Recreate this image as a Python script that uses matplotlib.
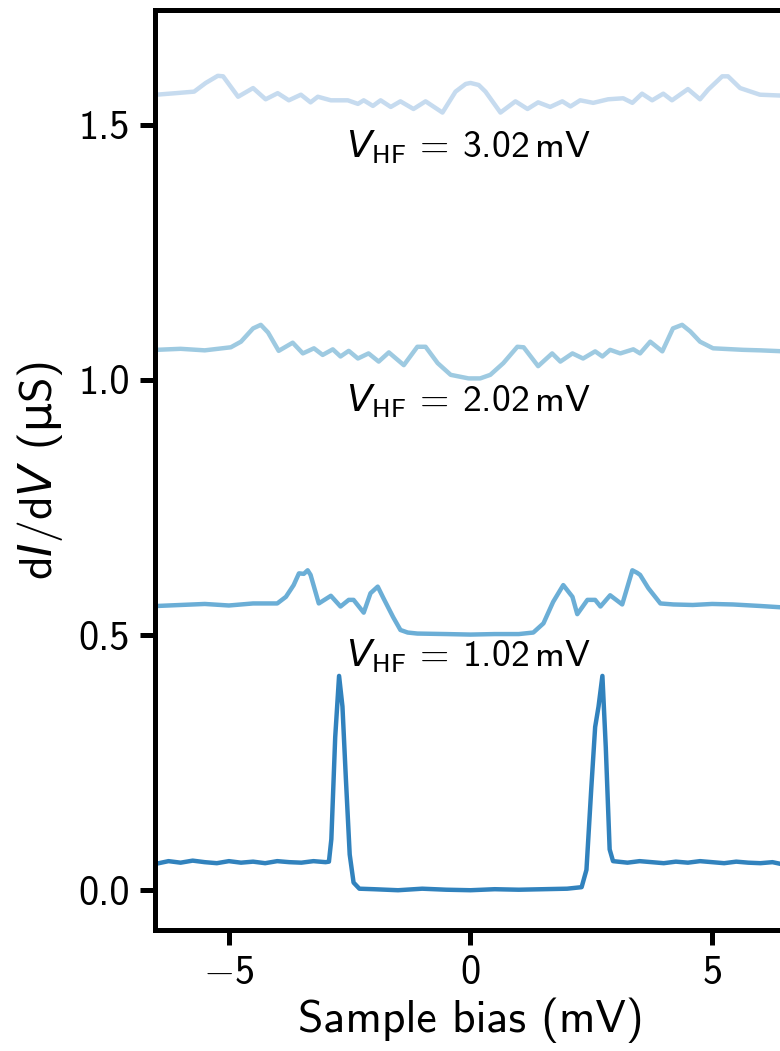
import matplotlib
matplotlib.use("Agg")
import matplotlib.pyplot as plt

plt.rcParams['font.family'] = ['cmss10', 'DejaVu Sans']
plt.rcParams['mathtext.fontset'] = 'custom'
plt.rcParams['mathtext.rm'] = 'cmss10'
plt.rcParams['mathtext.sf'] = 'DejaVu Sans'
plt.rcParams['mathtext.it'] = 'DejaVu Sans:italic'
plt.rcParams['axes.formatter.use_mathtext'] = True

# ---------------- data ----------------
# V_HF = 0 (bottom curve)
x0 = [-6.5, -6.25, -6.0, -5.75, -5.5, -5.25, -5.0, -4.75, -4.5, -4.25, -4.0, -3.75, -3.5,
      -3.25, -3.0, -2.93, -2.88, -2.8, -2.72, -2.65, -2.58, -2.5, -2.42, -2.3, -2.0, -1.5,
      -1.0, -0.5, 0.0, 0.5, 1.0, 1.5, 2.0, 2.3, 2.4, 2.5, 2.58, 2.65, 2.73, 2.8, 2.88, 2.95,
      3.25, 3.5, 3.75, 4.0, 4.25, 4.5, 4.75, 5.0, 5.25, 5.5, 5.75, 6.0, 6.25, 6.5]
y0 = [0.052, 0.057, 0.054, 0.058, 0.055, 0.053, 0.057, 0.054, 0.056, 0.053, 0.057, 0.055, 0.054,
      0.057, 0.055, 0.056, 0.10, 0.30, 0.42, 0.36, 0.22, 0.07, 0.015, 0.003, 0.002, 0.0,
      0.003, 0.001, 0.0, 0.002, 0.001, 0.002, 0.003, 0.006, 0.04, 0.20, 0.32, 0.36, 0.42, 0.28, 0.08, 0.057,
      0.054, 0.057, 0.055, 0.053, 0.056, 0.054, 0.057, 0.055, 0.053, 0.056, 0.054, 0.053, 0.055, 0.050]

# V_HF = 1.02 mV
x1 = [-6.5, -6.0, -5.5, -5.0, -4.5, -4.0, -3.82, -3.66, -3.55, -3.45, -3.37, -3.31, -3.14,
      -2.89, -2.69, -2.52, -2.42, -2.21, -2.07, -1.92, -1.80, -1.6, -1.45, -1.3, -1.1, -0.5,
      0.0, 0.5, 1.0, 1.3, 1.51, 1.71, 1.92, 2.11, 2.21, 2.42, 2.58, 2.69, 2.89, 3.14, 3.35,
      3.45, 3.51, 3.68, 3.93, 4.2, 4.6, 5.0, 5.43, 6.0, 6.5]
y1 = [0.557, 0.559, 0.561, 0.558, 0.562, 0.562, 0.575, 0.598, 0.621, 0.620, 0.627, 0.618, 0.562,
      0.577, 0.556, 0.569, 0.569, 0.544, 0.582, 0.595, 0.572, 0.535, 0.510, 0.505, 0.503, 0.502,
      0.501, 0.502, 0.502, 0.505, 0.523, 0.565, 0.598, 0.575, 0.541, 0.569, 0.569, 0.556, 0.578, 0.560, 0.627,
      0.622, 0.618, 0.592, 0.562, 0.560, 0.559, 0.561, 0.560, 0.557, 0.554]

# V_HF = 2.02 mV
x2 = [-6.5, -6.0, -5.5, -4.96, -4.75, -4.50, -4.34, -4.19, -3.97, -3.68, -3.47, -3.24, -3.06,
      -2.85, -2.69, -2.52, -2.33, -2.11, -1.90, -1.69, -1.38, -1.10, -0.93, -0.68, -0.41, -0.04,
      0.2, 0.41, 0.68, 0.97, 1.10, 1.40, 1.69, 1.86, 2.11, 2.33, 2.58, 2.73, 2.89, 3.10, 3.37,
      3.51, 3.72, 3.97, 4.19, 4.38, 4.55, 4.75, 5.02, 5.64, 6.0, 6.5]
y2 = [1.059, 1.061, 1.058, 1.064, 1.075, 1.101, 1.108, 1.093, 1.057, 1.073, 1.052, 1.062, 1.049,
      1.060, 1.046, 1.057, 1.042, 1.052, 1.036, 1.054, 1.029, 1.065, 1.065, 1.033, 1.010, 1.003,
      1.003, 1.010, 1.033, 1.065, 1.064, 1.027, 1.052, 1.036, 1.052, 1.042, 1.056, 1.046, 1.059, 1.052, 1.060,
      1.052, 1.075, 1.056, 1.101, 1.108, 1.095, 1.075, 1.062, 1.059, 1.058, 1.056]

# V_HF = 3.02 mV
x3 = [-6.5, -6.1, -5.72, -5.48, -5.23, -5.12, -4.81, -4.50, -4.24, -3.99, -3.76, -3.51, -3.31,
      -3.16, -2.89, -2.54, -2.33, -2.21, -2.02, -1.86, -1.65, -1.45, -1.18, -0.93, -0.58, -0.31,
      -0.10, 0.0, 0.17, 0.31, 0.62, 0.93, 1.18, 1.40, 1.65, 1.90, 2.07, 2.27, 2.54, 2.85, 3.16,
      3.35, 3.55, 3.76, 3.99, 4.17, 4.50, 4.75, 4.92, 5.21, 5.33, 5.58, 5.99, 6.5]
y3 = [1.559, 1.562, 1.565, 1.582, 1.596, 1.595, 1.555, 1.572, 1.550, 1.562, 1.548, 1.559, 1.544,
      1.555, 1.548, 1.548, 1.541, 1.548, 1.537, 1.548, 1.535, 1.546, 1.531, 1.546, 1.524, 1.565,
      1.580, 1.582, 1.578, 1.565, 1.524, 1.546, 1.531, 1.544, 1.535, 1.546, 1.536, 1.548, 1.543, 1.550, 1.552,
      1.543, 1.561, 1.548, 1.561, 1.548, 1.570, 1.550, 1.569, 1.595, 1.595, 1.572, 1.559, 1.557]

labels = [r"$V_\mathrm{HF}\,=\,1.02\,\mathrm{mV}$",
          r"$V_\mathrm{HF}\,=\,2.02\,\mathrm{mV}$",
          r"$V_\mathrm{HF}\,=\,3.02\,\mathrm{mV}$"]
label_y = [0.458, 0.958, 1.456]
colors = ['#3182bd', '#6baed6', '#9ecae1', '#c6dbef']

xticks = [-5, 0, 5]
yticks = [0.0, 0.5, 1.0, 1.5]

# ---------------- figure ----------------
fig = plt.figure(figsize=(7.8, 10.51), dpi=100)
ax = fig.add_axes([0.1987, 0.1151, 0.809, 0.8754])

for xs, ys, c in zip([x0, x1, x2, x3], [y0, y1, y2, y3], colors):
    ax.plot(xs, ys, color=c, lw=3.2, solid_joinstyle='round')

for lab, ly in zip(labels, label_y):
    ax.text(-0.05, ly, lab, ha='center', va='center', fontsize=27)

ax.set_xlim(-6.53, 6.53)
ax.set_ylim(-0.078, 1.725)
ax.set_xticks(xticks)
ax.set_yticks(yticks)
ax.set_yticklabels([f"{v:.1f}" for v in yticks])
ax.set_xticklabels([f"${v}$" if v >= 0 else f"$-{abs(v)}$" for v in xticks])
ax.tick_params(axis='both', which='major', length=11, width=3.6, labelsize=29, pad=7)
for sp in ax.spines.values():
    sp.set_linewidth(3.6)

ax.set_xlabel("Sample bias (mV)", fontsize=33, labelpad=4)
ax.set_ylabel(r"d$I$/d$V$ ($\mathsf{\mu}$S)", fontsize=33, labelpad=10)

fig.savefig("out.png", dpi=100)
